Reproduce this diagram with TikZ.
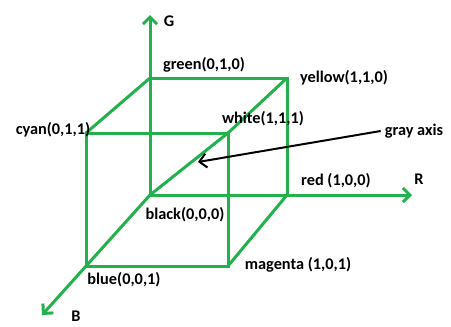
\documentclass[tikz,border=0pt]{standalone}
\usepackage{fontspec}
\setmainfont{Carlito}
\usepackage{tikz}
\usetikzlibrary{arrows.meta}
\definecolor{VerdePaint}{RGB}{34,177,76}

\begin{document}
\begin{tikzpicture}[x=1pt,y=-1pt,>={Straight Barb[length=7pt,width=14pt]},
  cubo/.style={line width=3pt,VerdePaint},
  etiq/.style={font=\bfseries\fontsize{16.3}{18}\selectfont,inner sep=0pt}]
  \useasboundingbox (0,0) rectangle (451,327);

  % vertices del cubo
  \coordinate (black) at (150,195);
  \coordinate (red) at (287,195);
  \coordinate (green) at (150,78);
  \coordinate (yellow) at (287,78);
  \coordinate (blue) at (86,266);
  \coordinate (magenta) at (228,266);
  \coordinate (cyan) at (86,133);
  \coordinate (white) at (228,133);

  % extremos de los ejes
  \coordinate (Gtip) at (150,15);
  \coordinate (Rtip) at (412,195);
  \coordinate (Btip) at (42,315);

  \draw[cubo] (green) -- (yellow) -- (red);
  \draw[cubo] (cyan) -- (white) -- (magenta) -- (blue) -- cycle;
  \draw[cubo] (green) -- (cyan);
  \draw[cubo] (yellow) -- (white);
  \draw[cubo] (red) -- (magenta);
  \draw[cubo] (black) -- (white);

  \draw[cubo,->] (black) -- (Gtip);
  \draw[cubo,->] (black) -- (Rtip);
  \draw[cubo,->] (black) -- (Btip);

  \node[etiq] (lG) at (169,21) {G};
  \node[etiq] (lR) at (419,179) {R};
  \node[etiq] (lB) at (76,316) {B};

  \node[etiq] (lgreen) at (204,65) {green(0,1,0)};
  \node[etiq] (lyellow) at (344,78) {yellow(1,1,0)};
  \node[etiq] (lwhite) at (263,119) {white(1,1,1)};
  \node[etiq] (lcyan) at (53,130) {cyan(0,1,1)};
  \node[etiq] (lred) at (336,181) {red (1,0,0)};
  \node[etiq] (lblack) at (185,215) {black(0,0,0)};
  \node[etiq] (lmagenta) at (298,265) {magenta (1,0,1)};
  \node[etiq] (lblue) at (124,280) {blue(0,0,1)};

  \node[etiq] (lgray) at (414,131) {gray axis};
  \coordinate (grayend) at (198,162);
  \draw[->,line width=2pt,black] ([xshift=-4pt]lgray.west) -- (grayend);
\end{tikzpicture}
\end{document}
